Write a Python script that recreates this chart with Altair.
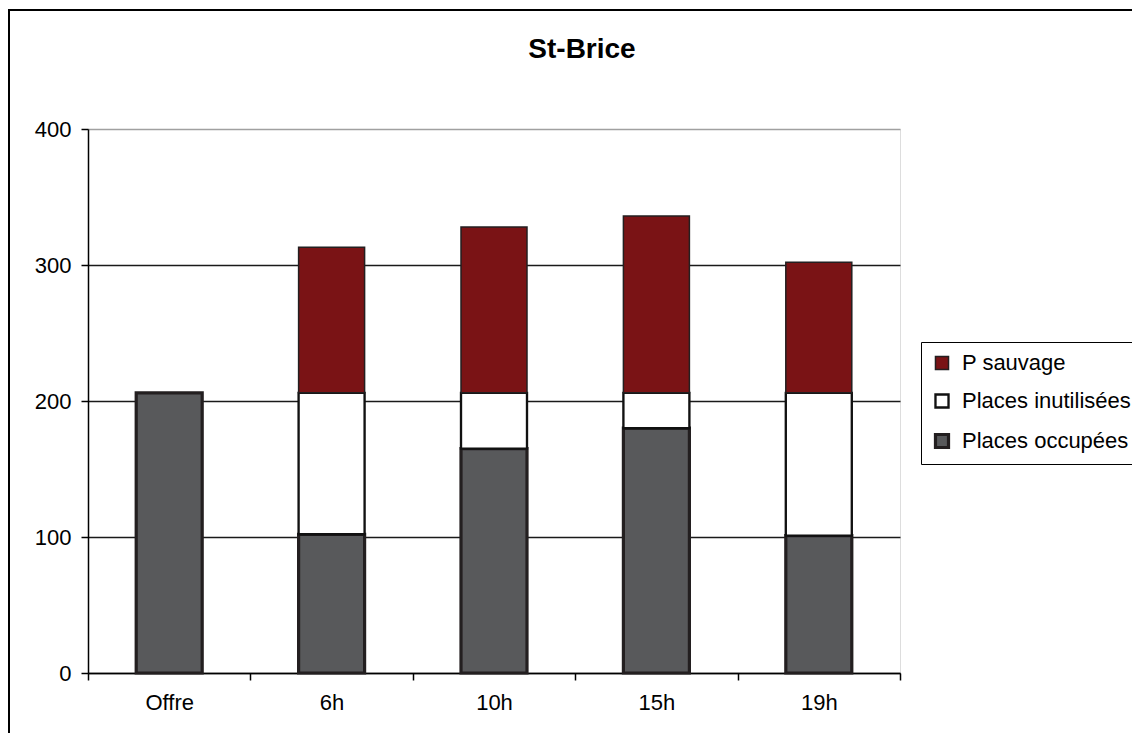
import altair as alt
import pandas as pd

categories = ["Offre", "6h", "10h", "15h", "19h"]
places_occupees = [206, 102, 165, 180, 101]
places_inutilisees = [0, 104, 41, 26, 105]
p_sauvage = [0, 107, 122, 130, 96]

series_names = ["P sauvage", "Places inutilisées", "Places occupées"]
series_colors = ["#7a1315", "#ffffff", "#58595b"]
series_strokes = ["#231f20", "#111111", "#231f20"]
series_widths = [1.5, 3.2, 1.5]

rows = []
for i, c in enumerate(categories):
    for name, vals, order in [("Places occupées", places_occupees, 0),
                              ("Places inutilisées", places_inutilisees, 1),
                              ("P sauvage", p_sauvage, 2)]:
        if vals[i] > 0:
            rows.append({"cat": c, "serie": name, "val": vals[i], "ord": order})
df = pd.DataFrame(rows)

FONT = "Liberation Sans"
W, H = 812, 544

leg = alt.Legend(title=None, orient="none", legendX=833, legendY=213,
                 strokeColor="#000000", padding=10, rowPadding=15,
                 labelFontSize=22, labelFont=FONT, labelColor="#000000",
                 symbolType="square", symbolSize=170, labelOffset=9,
                 labelLimit=400, fillColor="#ffffff")

bars = alt.Chart(df).mark_bar(size=66).encode(
    x=alt.X("cat:N", sort=categories, title=None,
            scale=alt.Scale(paddingInner=0, paddingOuter=0),
            axis=alt.Axis(labelAngle=0, labelFontSize=22, labelFont=FONT,
                          labelColor="#000000", tickBand="extent", tickSize=7,
                          tickColor="#000000", tickWidth=1.5, domainColor="#000000",
                          domainWidth=1.5, labelPadding=12, grid=False)),
    y=alt.Y("val:Q", stack="zero", title=None,
            scale=alt.Scale(domain=[0, 400], nice=False),
            axis=alt.Axis(values=[0, 100, 200, 300, 400], labelFontSize=22,
                          labelFont=FONT, labelColor="#000000", tickSize=7,
                          tickColor="#000000", tickWidth=1.5, domainColor="#000000",
                          domainWidth=1.5, labelPadding=10,
                          gridColor=alt.condition("datum.value == 400",
                                                  alt.value("#a0a0a0"),
                                                  alt.value("#1a1a1a")),
                          gridWidth=1.5)),
    color=alt.Color("serie:N", scale=alt.Scale(domain=series_names, range=series_colors),
                    legend=leg),
    stroke=alt.Stroke("serie:N", scale=alt.Scale(domain=series_names, range=series_strokes),
                      legend=leg),
    strokeWidth=alt.StrokeWidth("serie:N",
                                scale=alt.Scale(domain=series_names, range=series_widths),
                                legend=leg),
    order=alt.Order("ord:Q", sort="ascending"),
)

frame = alt.Chart(pd.DataFrame({"k": [0]})).mark_rect(
    fill=None, stroke="#000000", strokeWidth=2, clip=False
).encode(x=alt.value(-79), x2=alt.value(1300), y=alt.value(-119), y2=alt.value(800))

chart = alt.layer(frame, bars).properties(
    width=W, height=H,
    autosize=alt.AutoSizeParams(type="none"),
    padding={"left": 80, "top": 121, "right": 232, "bottom": 60},
    title=alt.TitleParams("St-Brice", font=FONT, fontSize=28, fontWeight="bold",
                          color="#000000", anchor="middle", dx=88, offset=-77,
                          frame="group", baseline="alphabetic"),
).configure_view(stroke="#a0a0a0", strokeWidth=2).configure(background="#ffffff")

chart.save("out.html", embed_options={"renderer": "svg", "actions": False})
